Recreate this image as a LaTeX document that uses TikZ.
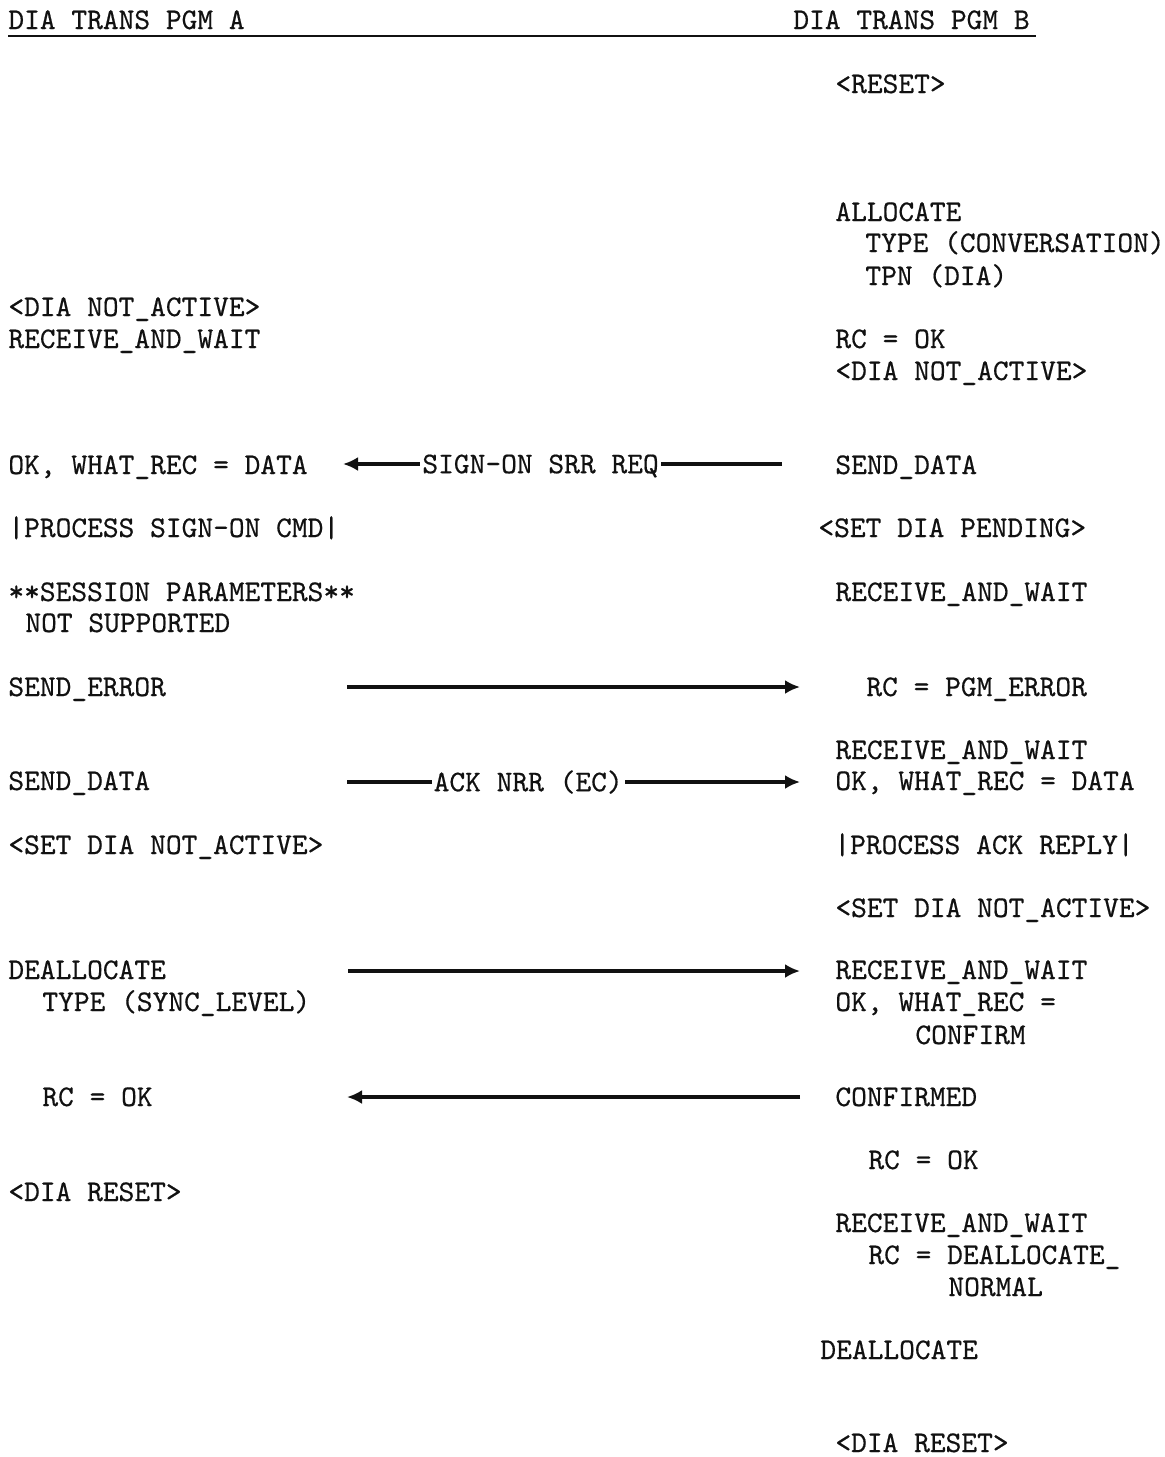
\documentclass[tikz,border=0pt]{standalone}
\usepackage{fontspec}
\setmonofont{lmmono10-regular}[Extension=.otf, FakeBold=0.5]
\usepackage{tikz}
\usetikzlibrary{arrows.meta, positioning}
\definecolor{typeink}{HTML}{111111}

\begin{document}
\begin{tikzpicture}[x=0.5pt, y=-0.5pt, >={Latex[length=7.5pt, width=7pt]},
  txt/.style={anchor=base west, inner sep=0pt, text=typeink, font=\ttfamily\fontsize{15}{18}\selectfont},
  lbl/.style={fill=white, inner xsep=1pt, inner ysep=0pt, text height=9.2pt, text depth=0pt, text=typeink, font=\ttfamily\fontsize{15}{18}\selectfont},
  msg/.style={line width=1.7pt, typeink}]
  \useasboundingbox (0,0) rectangle (1164,1457);
  % headers
  \node[txt] (hdrA) at (8,29) {DIA TRANS PGM A};
  \node[txt] (hdrB) at (793,29) {DIA TRANS PGM B};
  \draw[line width=1.3pt, typeink] ([yshift=-3.5pt]hdrA.base west) -- ([yshift=-3.5pt, xshift=3pt]hdrB.base east);
  % program A
  \node[txt] (aNotAct) at (8,316) {<DIA NOT\_ACTIVE>};
  \node[txt] (aRecv) at (8,348) {RECEIVE\_AND\_WAIT};
  \node[txt] (aWhat) at (8,474) {OK, WHAT\_REC = DATA};
  \node[txt] (aProc) at (8,537) {|PROCESS SIGN-ON CMD|};
  \node[txt] (aSess) at (8,601) {**SESSION PARAMETERS**};
  \node[txt] (aNotSup) at (25,632) {NOT SUPPORTED};
  \node[txt] (aErr) at (8,696) {SEND\_ERROR};
  \node[txt] (aSend) at (8,790) {SEND\_DATA};
  \node[txt] (aSetNot) at (8,854) {<SET DIA NOT\_ACTIVE>};
  \node[txt] (aDealloc) at (8,979) {DEALLOCATE};
  \node[txt] (aSync) at (42,1011) {TYPE (SYNC\_LEVEL)};
  \node[txt] (aRcOk) at (42,1106) {RC = OK};
  \node[txt] (aReset) at (8,1201) {<DIA RESET>};
  % program B
  \node[txt] (rReset) at (835,93) {<RESET>};
  \node[txt] (rAlloc) at (835,221) {ALLOCATE};
  \node[txt] (rType) at (865,252) {TYPE (CONVERSATION)};
  \node[txt] (rTpn) at (865,285) {TPN (DIA)};
  \node[txt] (rRcOk) at (835,348) {RC = OK};
  \node[txt] (rNotAct) at (835,380) {<DIA NOT\_ACTIVE>};
  \node[txt] (rSend) at (835,474) {SEND\_DATA};
  \node[txt] (rPend) at (818,537) {<SET DIA PENDING>};
  \node[txt] (rRecv) at (835,601) {RECEIVE\_AND\_WAIT};
  \node[txt] (rPgmErr) at (866,696) {RC = PGM\_ERROR};
  \node[txt] (rRecv2) at (835,759) {RECEIVE\_AND\_WAIT};
  \node[txt] (rWhat) at (835,790) {OK, WHAT\_REC = DATA};
  \node[txt] (rProcAck) at (834,854) {|PROCESS ACK REPLY|};
  \node[txt] (rSetNot) at (835,917) {<SET DIA NOT\_ACTIVE>};
  \node[txt] (rRecv3) at (835,979) {RECEIVE\_AND\_WAIT};
  \node[txt] (rWhat2) at (835,1011) {OK, WHAT\_REC =};
  \node[txt] (rConfirm) at (915,1044) {CONFIRM};
  \node[txt] (rConfirmed) at (835,1106) {CONFIRMED};
  \node[txt] (rRcOk2) at (868,1169) {RC = OK};
  \node[txt] (rRecv4) at (835,1232) {RECEIVE\_AND\_WAIT};
  \node[txt] (rRcDeal) at (868,1264) {RC = DEALLOCATE\_};
  \node[txt] (rNormal) at (948,1296) {NORMAL};
  \node[txt] (rDealloc) at (820,1359) {DEALLOCATE};
  \node[txt] (rDiaReset) at (835,1452) {<DIA RESET>};
  % flows
  \coordinate (sigL) at (343,464);  \coordinate (sigR) at (782,464);
  \coordinate (errL) at (347,687);  \coordinate (errR) at (800,687);
  \coordinate (ackL) at (347,782);  \coordinate (ackR) at (800,782);
  \coordinate (dlcL) at (348,971);  \coordinate (dlcR) at (800,971);
  \coordinate (cfmL) at (347,1097); \coordinate (cfmR) at (800,1097);
  \draw[msg, ->] (sigR) -- node[lbl, pos=0.55] {SIGN-ON SRR REQ} (sigL);
  \draw[msg, ->] (errL) -- (errR);
  \draw[msg, ->] (ackL) -- node[lbl, pos=0.40] {ACK NRR (EC)} (ackR);
  \draw[msg, ->] (dlcL) -- (dlcR);
  \draw[msg, ->] (cfmR) -- (cfmL);
\end{tikzpicture}
\end{document}
